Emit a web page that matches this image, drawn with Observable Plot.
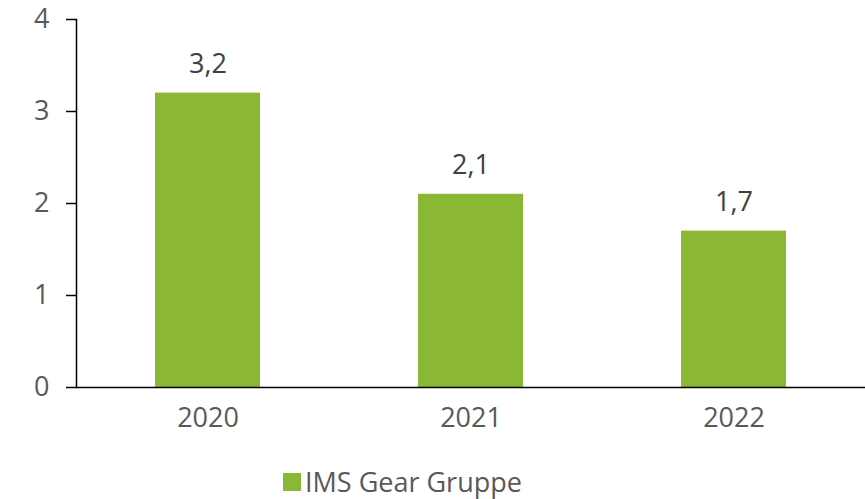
<!DOCTYPE html>
<html>
<head>
<meta charset="utf-8">
<script src="https://cdn.jsdelivr.net/npm/d3@7"></script>
<script src="https://cdn.jsdelivr.net/npm/@observablehq/plot@0.6"></script>
<style>
  html, body { margin: 0; padding: 0; background: #fff; }
  #chart { width: 865px; height: 499px; position: relative; font-family: "Open Sans", sans-serif; }
  #legend { position: absolute; left: 283px; top: 468px; display: flex; align-items: center; font-size: 27px; line-height: 28px; color: #595959; }
  #legend .sw { width: 18px; height: 18px; background: #8ab734; margin-right: 4px; }
</style>
</head>
<body>
<div id="chart"></div>
<script>
const years = ["2020", "2021", "2022"];
const values = [3.2, 2.1, 1.7];
const labels = ["3,2", "2,1", "1,7"];
const yTicks = [0, 1, 2, 3, 4];
const seriesName = "IMS Gear Gruppe";

const data = years.map((y, i) => ({year: y, value: values[i], label: labels[i]}));

const plot = Plot.plot({
  width: 865,
  height: 450,
  marginTop: 19,
  marginBottom: 63,
  marginLeft: 76,
  marginRight: 0,
  style: {fontFamily: "Open Sans, sans-serif", fontSize: "27px", color: "#595959", background: "#fff", overflow: "visible"},
  x: {domain: years, paddingInner: 0.6, paddingOuter: 0.3, label: null},
  y: {domain: [0, 4], label: null},
  marks: [
    Plot.barY(data, {x: "year", y: "value", fill: "#8ab734"}),
    Plot.axisX({tickSize: 0, tickPadding: 20, fontSize: 27, fill: "#595959"}),
    Plot.axisY({ticks: yTicks, tickFormat: d => String(d), tickSize: 10, tickPadding: 17, fontSize: 27, fill: "#595959", stroke: "#000", strokeWidth: 1.5, strokeOpacity: 1}),
    Plot.frame({anchor: "left", stroke: "#000", strokeWidth: 1.5}),
    Plot.ruleY([0], {stroke: "#000", strokeWidth: 1.5}),
    Plot.text(data, {x: "year", y: "value", text: "label", dy: -29, fontSize: 27, fill: "#404040"})
  ]
});

const chart = document.getElementById("chart");
chart.appendChild(plot);
const legend = document.createElement("div");
legend.id = "legend";
legend.innerHTML = `<span class="sw"></span><span>${seriesName}</span>`;
chart.appendChild(legend);
</script>
</body>
</html>
